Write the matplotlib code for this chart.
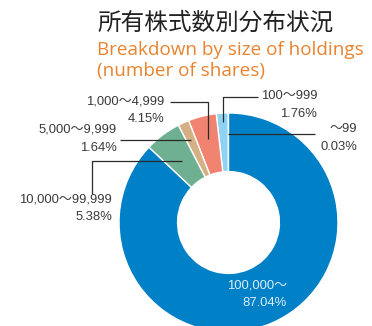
import matplotlib
matplotlib.use("Agg")
import matplotlib.pyplot as plt
import numpy as np

# Shareholding distribution by number of shares held
categories = ["～99", "100～999", "1,000～4,999", "5,000～9,999",
              "10,000～99,999", "100,000～"]
shares_pct = [0.03, 1.76, 4.15, 1.64, 5.38, 87.04]
pct_labels = ["0.03%", "1.76%", "4.15%", "1.64%", "5.38%", "87.04%"]
colors = ["#8fd3f4", "#8fd3f4", "#f08470", "#d5b085", "#6fb093", "#0080c6"]

title = "所有株式数別分布状況"
subtitle_lines = ["Breakdown by size of holdings", "(number of shares)"]

W, H = 372, 326
fig = plt.figure(figsize=(W / 100, H / 100), dpi=100)
ax = fig.add_axes([0, 0, 1, 1])

FONT = ["Liberation Sans", "Noto Sans CJK JP", "DejaVu Sans"]
TXT = "#3a3a3a"

def py(y):
    # pixel row (top origin) -> data y (bottom origin)
    return H - y

cx, cy, R = 228.5, py(222.5), 109.5
ring = 0.535

wedges, _ = ax.pie(shares_pct, colors=colors, startangle=90, counterclock=True,
                   center=(cx, cy), radius=R,
                   wedgeprops=dict(width=R * ring, edgecolor="white", linewidth=1.0))
ax.set_xlim(0, W)
ax.set_ylim(0, H)
ax.set_aspect("equal")
ax.axis("off")

# mid-angle of each wedge
cum = np.cumsum([0] + shares_pct)
mid = 90 + 360 * (cum[:-1] + cum[1:]) / 2 / 100

def anchor(i, rfrac):
    a = np.deg2rad(mid[i])
    return cx + R * rfrac * np.cos(a), cy + R * rfrac * np.sin(a)

lc = dict(color="#2a2a2a", lw=0.9, solid_capstyle="butt")
fs = 9.4

def label(x, y, s, ha, color=TXT):
    ax.text(x, py(y), s, ha=ha, va="center", fontsize=fs, color=color, family=FONT)

# ～99
x0, y0 = anchor(0, 0.81)
ax.plot([x0, 315], [y0, y0], **lc)
label(357, 129, categories[0], "right")
label(357, 147, pct_labels[0], "right")

# 100～999
x0, y0 = anchor(1, 0.915)
ax.plot([x0, x0, 258], [y0, py(96.5), py(96.5)], **lc)
label(261, 96, categories[1], "left")
label(317, 114, pct_labels[1], "right")

# 1,000～4,999
x0, y0 = anchor(2, 0.79)
ax.plot([x0, x0, 170], [y0, py(101.5), py(101.5)], **lc)
label(164, 101, categories[2], "right")
label(164, 119, pct_labels[2], "right")

# 5,000～9,999
x0, y0 = anchor(3, 0.83)
ax.plot([x0, 120], [y0, y0], **lc)
label(117, 130, categories[3], "right")
label(117, 148, pct_labels[3], "right")

# 10,000～99,999
x0, y0 = anchor(4, 0.70)
ax.plot([x0, 92, 92], [y0, y0, py(194)], **lc)
label(112, 199, categories[4], "right")
label(112, 217, pct_labels[4], "right")

# 100,000～ (inside the ring)
label(287, 285, categories[5], "right", color="#dceefa")
label(287, 303, pct_labels[5], "right", color="#dceefa")

# headings
ax.text(97, py(23), title, ha="left", va="center", fontsize=17, color="#222222",
        family=["Noto Sans CJK JP"])
ax.text(97, py(50), subtitle_lines[0], ha="left", va="center", fontsize=13.6,
        color="#e8832f", family=["Open Sans"])
ax.text(97, py(71), subtitle_lines[1], ha="left", va="center", fontsize=13.6,
        color="#e8832f", family=["Open Sans"])

fig.savefig("out.png", dpi=100)
